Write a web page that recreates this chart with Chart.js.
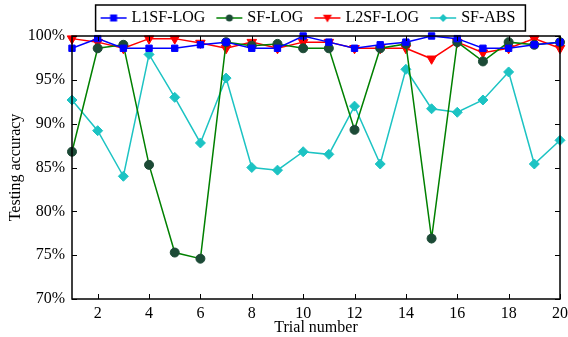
<!DOCTYPE html>
<html>
<head>
<meta charset="utf-8">
<script src="https://cdn.jsdelivr.net/npm/chart.js@4"></script>
<style>
  html, body { margin: 0; padding: 0; background: #fff; }
  #wrap { width: 568px; height: 337px; }
</style>
</head>
<body>
<div id="wrap"><canvas id="acc"></canvas></div>
<script>
const trials = [1, 2, 3, 4, 5, 6, 7, 8, 9, 10, 11, 12, 13, 14, 15, 16, 17, 18, 19, 20];
const l1sfLog = [98.6, 99.7, 98.6, 98.6, 98.6, 99.0, 99.3, 98.6, 98.6, 100, 99.3, 98.6, 99.0, 99.3, 100, 99.7, 98.6, 98.6, 99.0, 99.3];
const sfLog = [86.8, 98.6, 99.0, 85.3, 75.3, 74.6, 99.3, 98.9, 99.1, 98.6, 98.6, 89.3, 98.6, 99.1, 76.9, 99.3, 97.1, 99.3, 99.0, 99.3];
const l2sfLog = [99.7, 99.3, 98.6, 99.7, 99.7, 99.2, 98.6, 99.3, 98.6, 99.3, 99.3, 98.6, 98.6, 98.6, 97.4, 99.3, 98.1, 98.6, 99.7, 98.6];
const sfAbs = [92.7, 89.2, 84.0, 97.9, 93.0, 87.8, 95.2, 85.0, 84.7, 86.8, 86.5, 92.0, 85.4, 96.2, 91.7, 91.3, 92.7, 95.9, 85.4, 88.1];
const xTicks = [2, 4, 6, 8, 10, 12, 14, 16, 18, 20];
const yTicks = [70, 75, 80, 85, 90, 95, 100];

const FONT = '"Liberation Serif", "Times New Roman", serif';
const LEGEND_CENTER = 308;

function pts(values) {
    return trials.map((t, i) => ({ x: t, y: values[i] }));
}

// legend sample: short line with the marker in its middle
function legendIcon(color, style, fill, r) {
    const c = document.createElement('canvas');
    c.width = 40;
    c.height = 14;
    const g = c.getContext('2d');
    const cx = 25, cy = 7;
    g.strokeStyle = color;
    g.lineWidth = 1.5;
    g.beginPath();
    g.moveTo(12, cy);
    g.lineTo(38, cy);
    g.stroke();
    g.fillStyle = fill;
    g.beginPath();
    if (style === 'rect') {
        g.rect(cx - r, cy - r, 2 * r, 2 * r);
    } else if (style === 'circle') {
        g.arc(cx, cy, r, 0, Math.PI * 2);
    } else if (style === 'tri') {
        g.moveTo(cx - r, cy - r * 0.7);
        g.lineTo(cx + r, cy - r * 0.7);
        g.lineTo(cx, cy + r);
        g.closePath();
    } else {
        g.moveTo(cx, cy - r);
        g.lineTo(cx + r, cy);
        g.lineTo(cx, cy + r);
        g.lineTo(cx - r, cy);
        g.closePath();
    }
    g.fill();
    return c;
}

const frame = {
    id: 'frame',
    afterUpdate(chart) {
        // slide the legend row so it sits over the same spot as the original
        const lg = chart.legend;
        const boxes = lg.legendHitBoxes;
        if (!boxes || !boxes.length) return;
        const first = boxes[0], last = boxes[boxes.length - 1];
        const mid = (first.left + 7 + last.left + last.width) / 2;
        const d = LEGEND_CENTER - mid;
        lg.left += d;
        lg.right += d;
        boxes.forEach(b => { b.left += d; });
    },
    afterDraw(chart) {
        const { ctx, chartArea: a, scales } = chart;
        ctx.save();
        ctx.strokeStyle = '#000';
        ctx.lineWidth = 1.5;
        ctx.strokeRect(a.left, a.top, a.right - a.left, a.bottom - a.top);
        ctx.lineWidth = 1;
        ctx.beginPath();
        xTicks.forEach(v => {
            const px = Math.round(scales.x.getPixelForValue(v)) + 0.5;
            ctx.moveTo(px, a.bottom); ctx.lineTo(px, a.bottom - 5);
            ctx.moveTo(px, a.top); ctx.lineTo(px, a.top + 5);
        });
        yTicks.forEach(v => {
            const py = Math.round(scales.y.getPixelForValue(v)) + 0.5;
            ctx.moveTo(a.left, py); ctx.lineTo(a.left + 5, py);
            ctx.moveTo(a.right, py); ctx.lineTo(a.right - 5, py);
        });
        ctx.stroke();

        // box around the legend
        const boxes = chart.legend.legendHitBoxes;
        if (boxes && boxes.length) {
            const first = boxes[0], last = boxes[boxes.length - 1];
            const l = first.left + 2, r = last.left + last.width + 10;
            ctx.lineWidth = 1.5;
            ctx.strokeRect(l, 5, r - l, 26);
        }
        ctx.restore();
    }
};

new Chart(document.getElementById('acc'), {
    type: 'line',
    data: {
        datasets: [
            {
                label: 'L1SF-LOG', data: pts(l1sfLog),
                borderColor: '#0000ff', backgroundColor: '#0000ff',
                pointStyle: 'rect', pointRadius: 4.5,
                legendIcon: legendIcon('#0000ff', 'rect', '#0000ff', 3.5)
            },
            {
                label: 'SF-LOG', data: pts(sfLog),
                borderColor: '#008000', backgroundColor: '#1c4a36',
                pointBorderColor: '#1c4a36',
                pointStyle: 'circle', pointRadius: 4.5,
                legendIcon: legendIcon('#008000', 'circle', '#1c4a36', 3.5)
            },
            {
                label: 'L2SF-LOG', data: pts(l2sfLog),
                borderColor: '#ff0000', backgroundColor: '#ff0000',
                pointStyle: 'triangle', pointRotation: 180, pointRadius: 5.5,
                legendIcon: legendIcon('#ff0000', 'tri', '#ff0000', 4.5)
            },
            {
                label: 'SF-ABS', data: pts(sfAbs),
                borderColor: '#1cc3c3', backgroundColor: '#1cc3c3',
                pointStyle: 'rectRot', pointRadius: 5,
                legendIcon: legendIcon('#1cc3c3', 'diamond', '#1cc3c3', 4)
            }
        ]
    },
    options: {
        responsive: true,
        maintainAspectRatio: false,
        animation: false,
        clip: false,
        layout: { padding: { top: 6, right: 0, left: 0, bottom: 0 } },
        elements: {
            line: { borderWidth: 1.5, tension: 0 },
            point: { borderWidth: 1, hoverRadius: 5 }
        },
        plugins: {
            legend: {
                position: 'top',
                labels: {
                    usePointStyle: true,
                    pointStyleWidth: 30,
                    padding: 4,
                    color: '#000',
                    font: { family: FONT, size: 16 },
                    generateLabels(chart) {
                        return chart.data.datasets.map((ds, i) => ({
                            text: ds.label,
                            pointStyle: ds.legendIcon,
                            fillStyle: ds.backgroundColor,
                            strokeStyle: ds.borderColor,
                            lineWidth: 0,
                            fontColor: '#000',
                            hidden: false,
                            datasetIndex: i
                        }));
                    }
                }
            },
            tooltip: { enabled: false }
        },
        scales: {
            x: {
                type: 'linear',
                min: 1, max: 20,
                grid: { display: false, drawTicks: false, tickLength: 0 },
                border: { display: false },
                afterBuildTicks(s) { s.ticks = xTicks.map(v => ({ value: v })); },
                afterFit(s) { s.height = 38; s.paddingRight = 8; s.paddingLeft = 0; },
                ticks: {
                    color: '#000', padding: 5, maxRotation: 0,
                    font: { family: FONT, size: 16 }
                },
                title: {
                    display: true, text: 'Trial number', color: '#000',
                    font: { family: FONT, size: 16 },
                    padding: { top: 0, bottom: 0 }
                }
            },
            y: {
                min: 70, max: 100,
                grid: { display: false, drawTicks: false, tickLength: 0 },
                border: { display: false },
                afterBuildTicks(s) { s.ticks = yTicks.map(v => ({ value: v })); },
                afterFit(s) { s.width = 72; },
                ticks: {
                    color: '#000', padding: 7,
                    font: { family: FONT, size: 16 },
                    callback: v => v + '%'
                },
                title: {
                    display: true, text: 'Testing accuracy', color: '#000',
                    font: { family: FONT, size: 16 },
                    padding: { top: 6, bottom: 0 }
                }
            }
        }
    },
    plugins: [frame]
});
</script>
</body>
</html>
